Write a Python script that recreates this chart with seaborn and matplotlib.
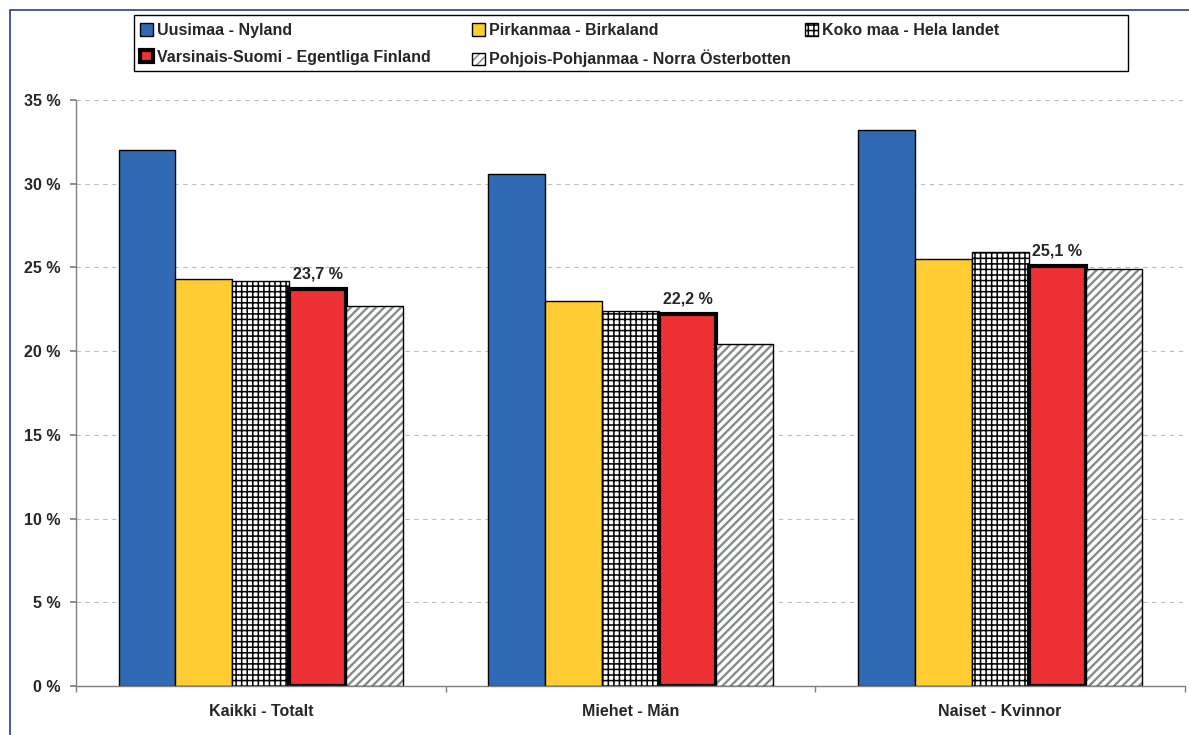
import numpy as np
import pandas as pd
import matplotlib
matplotlib.use('Agg')
import matplotlib.pyplot as plt
from matplotlib.patches import Rectangle
from matplotlib.colors import to_rgba
import seaborn as sns

categories = ['Kaikki - Totalt', 'Miehet - Män', 'Naiset - Kvinnor']
regions = ['Uusimaa - Nyland', 'Pirkanmaa - Birkaland', 'Koko maa - Hela landet',
           'Varsinais-Suomi - Egentliga Finland', 'Pohjois-Pohjanmaa - Norra Österbotten']

uusimaa = [32.0, 30.6, 33.2]
pirkanmaa = [24.3, 23.0, 25.5]
koko_maa = [24.2, 22.4, 25.9]
varsinais = [23.7, 22.2, 25.1]
pohjois = [22.7, 20.4, 24.9]

yticks = [0, 5, 10, 15, 20, 25, 30, 35]

colors = ['#316AB4', '#FFCC33', '#FFFFFF', '#EE3135', '#FFFFFF']

series = [uusimaa, pirkanmaa, koko_maa, varsinais, pohjois]
rows = []
for reg, vals in zip(regions, series):
    for cat, v in zip(categories, vals):
        rows.append({'ryhmä': cat, 'alue': reg, 'osuus': v})
df = pd.DataFrame(rows)

sns.set_theme(style='white')
plt.rcParams['font.family'] = ['Liberation Sans', 'DejaVu Sans']
plt.rcParams['font.weight'] = 'bold'
plt.rcParams['hatch.linewidth'] = 1.1

fig = plt.figure(figsize=(11.89, 7.35), dpi=100)
ax = fig.add_axes([76 / 1189, 1 - 686 / 735, 1109 / 1189, 586 / 735])

sns.barplot(data=df, x='ryhmä', y='osuus', hue='alue', order=categories,
            hue_order=regions, palette=colors, width=0.77, saturation=1,
            edgecolor='black', linewidth=1, legend=False, ax=ax)

# hatches and borders per series
for i, cont in enumerate(ax.containers):
    for p in cont:
        if i == 2:
            p.set_hatch('+++')
        if i == 4:
            p.set_hatch('////')
            p._hatch_color = to_rgba('#858C8C')
            if hasattr(p, 'set_hatch_linewidth'):
                p.set_hatch_linewidth(1.7)
        if i == 3:
            p.set_linewidth(3)

# labels above Varsinais-Suomi bars
for p, v in zip(ax.containers[3], varsinais):
    ax.text(p.get_x() + p.get_width() / 2, v + 0.45,
            f'{v:.1f}'.replace('.', ',') + ' %',
            ha='center', va='bottom', fontsize=11.5, fontweight='bold')

ax.set_ylim(0, 35)
ax.set_xlim(-0.5, 2.5)
ax.set_yticks(yticks)
ax.set_yticklabels([f'{t} %' for t in yticks])
ax.set_xlabel('')
ax.set_ylabel('')
ax.yaxis.grid(True, color='#BDBDBD', linestyle=(0, (4, 4)), linewidth=0.8)
ax.set_axisbelow(True)
for s in ['top', 'right']:
    ax.spines[s].set_visible(False)
for s in ['left', 'bottom']:
    ax.spines[s].set_color('#808080')
    ax.spines[s].set_linewidth(1)
ax.set_xticks([-0.5, 0.5, 1.5, 2.5], minor=True)
ax.tick_params(axis='x', which='major', length=0, pad=13, labelsize=11.5)
ax.tick_params(axis='x', which='minor', length=4, color='#808080', direction='out', bottom=True)
ax.tick_params(axis='y', which='major', length=4, color='#808080', direction='out',
               left=True, pad=7, labelsize=11.5)
for lab in ax.get_xticklabels() + ax.get_yticklabels():
    lab.set_fontweight('bold')

# legend: three fixed-width columns inside one box
handles = [cont[0] for cont in ax.containers]
columns = [[0, 3], [1, 4], [2]]
col_x = [140, 472, 805]
for idx, x in zip(columns, col_x):
    fig.legend([handles[k] for k in idx], [regions[k] for k in idx],
               loc='upper left', bbox_to_anchor=(x / 1189, 1 - 23 / 735),
               frameon=False, handlelength=0.8, handleheight=0.8,
               handletextpad=0.25, labelspacing=0.74, borderpad=0, borderaxespad=0,
               prop={'weight': 'bold', 'size': 11.5})
fig.patches.append(Rectangle((134 / 1189, 1 - 71 / 735), 994 / 1189, 56 / 735,
                             transform=fig.transFigure, fill=False,
                             edgecolor='black', linewidth=1))
# outer frame
fig.patches.append(Rectangle((10 / 1189, -0.1), 1.2, 1.1 - 10 / 735,
                             transform=fig.transFigure, fill=False,
                             edgecolor='#2E3A8C', linewidth=1.2))

fig.savefig('out.png', dpi=100)
